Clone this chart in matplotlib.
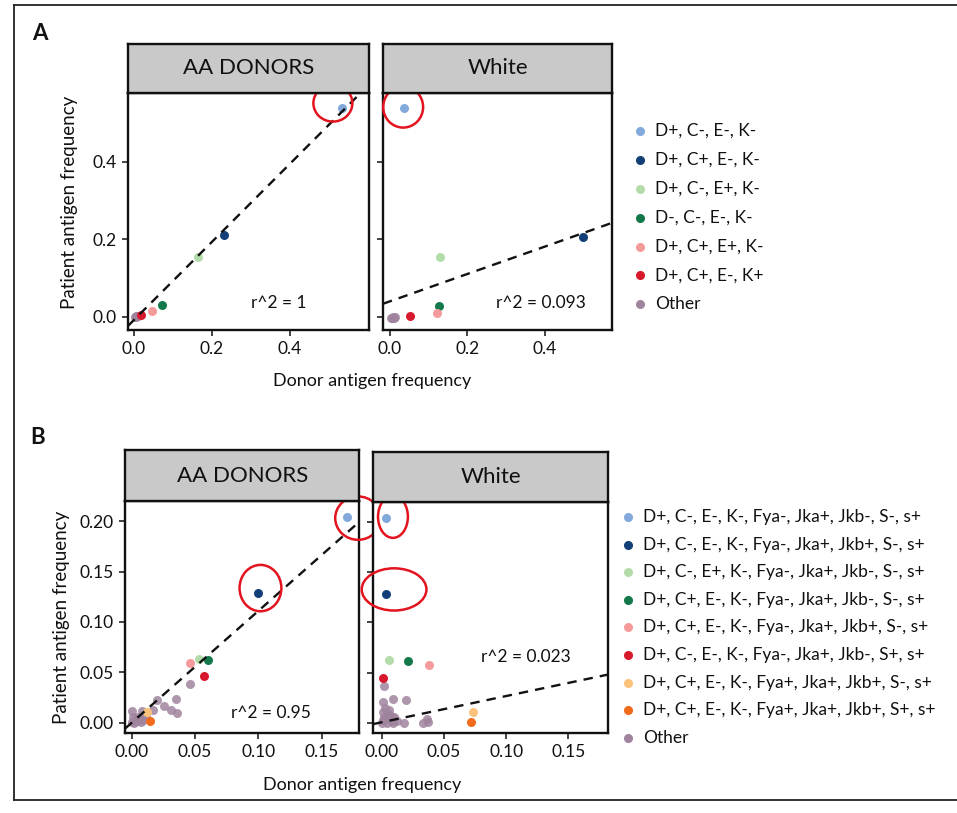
import numpy as np
import matplotlib
matplotlib.use("Agg")
import matplotlib.pyplot as plt
from matplotlib.patches import Ellipse

plt.rcParams['font.family'] = ['Lato', 'DejaVu Sans']

W, H = 957, 813

# ---- panel A data (donor freq x, patient freq y) ----
A_labels = ["D+, C-, E-, K-", "D+, C+, E-, K-", "D+, C-, E+, K-", "D-, C-, E-, K-",
            "D+, C+, E+, K-", "D+, C+, E-, K+", "Other"]
A_colors = ['#82a9dc', '#123f78', '#b4dcaa', '#13784a', '#f49a9a', '#d8182c', '#a0849e']

A_aa_donor = [0.534, 0.230, 0.165, 0.071, 0.047, 0.017]
A_aa_patient = [0.538, 0.212, 0.155, 0.030, 0.015, 0.004]
A_aa_other_donor = [0.004, 0.008, 0.011, 0.006, 0.002]
A_aa_other_patient = [0.001, 0.003, 0.002, 0.000, 0.000]

A_wh_donor = [0.037, 0.497, 0.129, 0.127, 0.122, 0.052]
A_wh_patient = [0.538, 0.206, 0.153, 0.028, 0.011, 0.003]
A_wh_other_donor = [0.003, 0.007, 0.011, 0.014, 0.009, 0.005]
A_wh_other_patient = [-0.002, -0.001, -0.002, -0.001, -0.003, -0.003]

A_aa_fit = (1.007, -0.008)   # slope, intercept
A_wh_fit = (0.353, 0.040)
A_r2 = ["r^2 = 1", "r^2 = 0.093"]

# ---- panel B data ----
B_labels = ["D+, C-, E-, K-, Fya-, Jka+, Jkb-, S-, s+",
            "D+, C-, E-, K-, Fya-, Jka+, Jkb+, S-, s+",
            "D+, C-, E+, K-, Fya-, Jka+, Jkb-, S-, s+",
            "D+, C+, E-, K-, Fya-, Jka+, Jkb-, S-, s+",
            "D+, C+, E-, K-, Fya-, Jka+, Jkb+, S-, s+",
            "D+, C-, E-, K-, Fya-, Jka+, Jkb-, S+, s+",
            "D+, C+, E-, K-, Fya+, Jka+, Jkb+, S-, s+",
            "D+, C+, E-, K-, Fya+, Jka+, Jkb+, S+, s+",
            "Other"]
B_colors = ['#82a9dc', '#123f78', '#b4dcaa', '#13784a', '#f49a9a', '#d8182c',
            '#fcc27a', '#f26a1b', '#a0849e']

B_aa_donor = [0.170, 0.100, 0.053, 0.060, 0.046, 0.057, 0.012, 0.0145]
B_aa_patient = [0.204, 0.129, 0.0635, 0.062, 0.059, 0.046, 0.011, 0.002]
B_aa_other_donor = [0.046, 0.0197, 0.035, 0.0255, 0.031, 0.036, 0.0166, 0.0005, 0.008,
                    0.001, 0.000, 0.004, 0.006, 0.011, 0.003, 0.007, 0.002, 0.009, 0.005]
B_aa_other_patient = [0.038, 0.023, 0.024, 0.0166, 0.013, 0.0093, 0.0126, 0.0116, 0.0116,
                      0.006, 0.001, 0.002, 0.004, 0.007, 0.0035, 0.001, 0.000, 0.003, 0.006]

B_wh_donor = [0.0035, 0.0035, 0.0059, 0.021, 0.038, 0.0013, 0.0737, 0.0718]
B_wh_patient = [0.204, 0.128, 0.062, 0.0615, 0.057, 0.045, 0.011, 0.0004]
B_wh_other_donor = [0.0018, 0.0013, 0.0093, 0.0195, 0.0008, 0.006, 0.004, 0.0093, 0.000,
                    0.0045, 0.0093, 0.002, 0.018, 0.0335, 0.036, 0.037, 0.007, 0.012,
                    0.002, 0.005, 0.008, 0.003, 0.006, 0.010, 0.001]
B_wh_other_patient = [0.0364, 0.0208, 0.0235, 0.0225, 0.011, 0.0126, 0.0054, 0.0044, 0.000,
                      0.000, 0.000, 0.003, 0.000, 0.000, 0.0034, 0.001, 0.008, 0.002,
                      0.006, 0.009, 0.002, 0.015, 0.004, 0.006, 0.003]

B_aa_fit = (1.11, 0.0)
B_wh_fit = (0.261, 0.0005)
B_r2 = ["r^2 = 0.95", "r^2 = 0.023"]


def rect(x0, y0, x1, y1):
    return [x0 / W, 1 - y1 / H, (x1 - x0) / W, (y1 - y0) / H]


fig = plt.figure(figsize=(W / 100, H / 100), dpi=100)
fig.patch.set_facecolor('white')


def panel(box, strip_top, xlim, ylim, title, xticks, yticks, xfmt, yfmt, showy):
    x0, y0, x1, y1 = box
    ax = fig.add_axes(rect(x0, y0, x1, y1))
    ax.set_xlim(*xlim)
    ax.set_ylim(*ylim)
    for s in ax.spines.values():
        s.set_linewidth(1.7)
        s.set_color('#111111')
    ax.set_xticks(xticks)
    ax.set_xticklabels([xfmt % t for t in xticks])
    ax.set_yticks(yticks)
    if showy:
        ax.set_yticklabels([yfmt % t for t in yticks])
    else:
        ax.set_yticklabels([])
        ax.tick_params(axis='y', length=0)
    ax.tick_params(direction='out', length=4, width=1.1, labelsize=12.5,
                   colors='#111111', pad=4)
    sax = fig.add_axes(rect(x0, strip_top, x1, y0))
    sax.set_facecolor('#c9c9c9')
    sax.set_xticks([])
    sax.set_yticks([])
    for s in sax.spines.values():
        s.set_linewidth(1.7)
        s.set_color('#111111')
    sax.text(0.5, 0.5, title, ha='center', va='center', fontsize=16,
             color='#111111', transform=sax.transAxes)
    return ax


def draw(ax, donor, patient, odonor, opatient, colors, fit, xlim, r2, r2pos):
    ax.scatter(odonor, opatient, s=42, color=colors[-1], alpha=0.85, lw=0, zorder=3)
    for i in range(len(donor)):
        ax.scatter([donor[i]], [patient[i]], s=42, color=colors[i], lw=0, zorder=4)
    xs = np.array(xlim)
    ax.plot(xs, fit[0] * xs + fit[1], ls=(0, (4, 3)), color='#111111', lw=1.7, zorder=5)
    ax.text(r2pos[0], r2pos[1], r2, ha='center', va='center', fontsize=12.5, color='#111111')


def circle(ax, x, y, w, h):
    ax.add_patch(Ellipse((x, y), w, h, fill=False, ec='#e3141f', lw=1.8,
                         clip_on=False, zorder=6))


# ---- panel A ----
ylimA = (-0.034, 0.578)
xlimA1 = (-0.0154, 0.6026)
xlimA2 = (-0.018, 0.573)
axA1 = panel((128, 92.7, 369, 330), 44, xlimA1, ylimA, "AA DONORS",
             [0.0, 0.2, 0.4], [0.0, 0.2, 0.4], "%.1f", "%.1f", True)
axA2 = panel((383, 92.7, 612, 330), 44, xlimA2, ylimA, "White",
             [0.0, 0.2, 0.4], [0.0, 0.2, 0.4], "%.1f", "%.1f", False)
draw(axA1, A_aa_donor, A_aa_patient, A_aa_other_donor, A_aa_other_patient,
     A_colors, A_aa_fit, xlimA1, A_r2[0], (0.372, 0.036))
draw(axA2, A_wh_donor, A_wh_patient, A_wh_other_donor, A_wh_other_patient,
     A_colors, A_wh_fit, xlimA2, A_r2[1], (0.39, 0.035))
circle(axA1, 0.51, 0.551, 0.10, 0.095)
circle(axA2, 0.034, 0.541, 0.103, 0.106)

# ---- panel B ----
ylimB = (-0.0105, 0.22)
xlimB1 = (-0.0053, 0.1796)
xlimB2 = (-0.0068, 0.182)
tB = [0.0, 0.05, 0.10, 0.15]
axB1 = panel((125, 501, 359.3, 733.3), 450, xlimB1, ylimB, "AA DONORS",
             tB, [0.0, 0.05, 0.10, 0.15, 0.20], "%.2f", "%.2f", True)
axB2 = panel((373.3, 501.7, 608.3, 733.3), 452, xlimB2, ylimB, "White",
             tB, [0.0, 0.05, 0.10, 0.15, 0.20], "%.2f", "%.2f", False)
draw(axB1, B_aa_donor, B_aa_patient, B_aa_other_donor, B_aa_other_patient,
     B_colors, B_aa_fit, xlimB1, B_r2[0], (0.110, 0.0099))
draw(axB2, B_wh_donor, B_wh_patient, B_wh_other_donor, B_wh_other_patient,
     B_colors, B_wh_fit, xlimB2, B_r2[1], (0.116, 0.0655))
circle(axB1, 0.1786, 0.203, 0.036, 0.043)
circle(axB1, 0.1016, 0.1336, 0.033, 0.046)
circle(axB2, 0.009, 0.205, 0.024, 0.042)
circle(axB2, 0.0099, 0.1327, 0.052, 0.042)

# ---- axis titles ----
fig.text(372 / W, 1 - 381 / H, "Donor antigen frequency", ha='center', va='center',
         fontsize=13, color='#111111')
fig.text(362 / W, 1 - 785 / H, "Donor antigen frequency", ha='center', va='center',
         fontsize=13, color='#111111')
fig.text(70 / W, 1 - 202 / H, "Patient antigen frequency", ha='center', va='center',
         rotation=90, fontsize=13.5, color='#111111')
fig.text(62 / W, 1 - 617 / H, "Patient antigen frequency", ha='center', va='center',
         rotation=90, fontsize=13.5, color='#111111')
fig.text(40 / W, 1 - 33 / H, "A", ha='center', va='center', fontsize=16,
         fontweight='bold', color='#111111')
fig.text(38 / W, 1 - 437 / H, "B", ha='center', va='center', fontsize=16,
         fontweight='bold', color='#111111')


# ---- legends ----
def legend(labels, colors, x, ytop, step, size):
    for i, (lab, c) in enumerate(zip(labels, colors)):
        y = ytop + i * step
        fig.lines.append(plt.Line2D([x / W], [1 - y / H], marker='o', ms=5.5,
                                    color=c, lw=0, transform=fig.transFigure))
        fig.text((x + 15) / W, 1 - y / H, lab, ha='left', va='center',
                 fontsize=size, color='#111111')


legend(A_labels, A_colors, 640, 131, 28.9, 12.5)
legend(B_labels, B_colors, 628, 517, 27.6, 12.5)

# ---- outer frame ----
for xs, ys in [([14, 957], [5, 5]), ([14, 14], [5, 800]), ([14, 957], [800, 800])]:
    fig.lines.append(plt.Line2D([v / W for v in xs], [1 - v / H for v in ys],
                                color='#222222', lw=1.3, transform=fig.transFigure))

fig.savefig("out.png", dpi=100)
